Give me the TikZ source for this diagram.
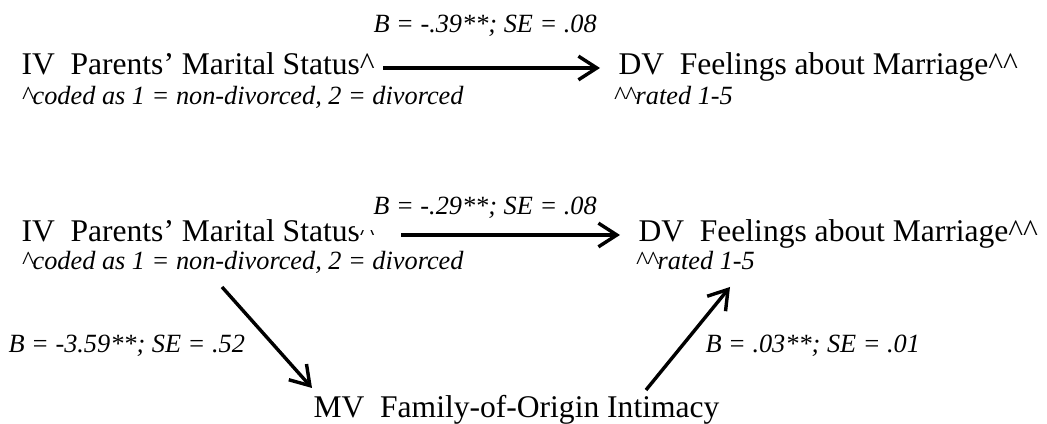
\documentclass[tikz,border=0pt]{standalone}
\usepackage{fontspec}
\setmainfont{Liberation Serif}
\usetikzlibrary{arrows.meta,calc}
\begin{document}
\begin{tikzpicture}[x=0.3802pt,y=-0.3802pt,
  varbox/.style={anchor=base west,inner sep=0pt,font=\fontsize{12}{14}\selectfont},
  notebox/.style={anchor=base west,inner sep=0pt,font=\fontsize{10}{12}\selectfont\itshape},
  coef/.style={notebox},
  effect/.style={line width=1.3pt,-{Straight Barb[length=7pt,width=9pt]}}]
\useasboundingbox (0,0) rectangle (1047,424);

% Total effect model
\node[varbox] (iv1) at (21,75) {IV\ \ Parents’ Marital Status\textasciicircum};
\node[varbox] (dv1) at (618,75) {DV\ \ Feelings about Marriage\textasciicircum\textasciicircum};
\node[notebox] (n1a) at (21,105) {\textasciicircum coded as 1 = non-divorced, 2 = divorced};
\node[notebox] (n1b) at (613,105) {\textasciicircum\textasciicircum rated 1-5};
\node[coef] (b1) at (373,33) {B = -.39**; SE = .08};
\draw[effect] ($(iv1.base east)+(8,-7)$) -- ($(dv1.base west)+(-18,-7)$);

% Mediation model
\node[varbox] (iv2) at (21,242) {IV\ \ Parents’ Marital Status\textasciicircum};
\node[varbox] (dv2) at (638,242) {DV\ \ Feelings about Marriage\textasciicircum\textasciicircum};
\node[notebox] (n2a) at (21,270) {\textasciicircum coded as 1 = non-divorced, 2 = divorced};
\node[notebox] (n2b) at (635,270) {\textasciicircum\textasciicircum rated 1-5};
\node[varbox] (mv) at (313,418) {MV\ \ Family-of-Origin Intimacy};
% white text box of the path label sits over the top of the caret
\node[coef,fill=white,inner xsep=7.2pt,inner ysep=4pt] (b2) at (354,215) {B = -.29**; SE = .08};
\node[coef] (b3) at (8,353) {B = -3.59**; SE = .52};
\node[coef] (b4) at (705,353) {B = .03**; SE = .01};

\draw[effect] ($(iv2.base east)+(26,-7)$) -- ($(dv2.base west)+(-18,-7)$);
\draw[effect] ($(n2a.base west)+(201,17)$) -- ($(mv.base west)+(-1,-30)$);
\draw[effect] ($(mv.base west)+(333,-28)$) -- ($(n2b.base west)+(95,17)$);
\end{tikzpicture}
\end{document}
